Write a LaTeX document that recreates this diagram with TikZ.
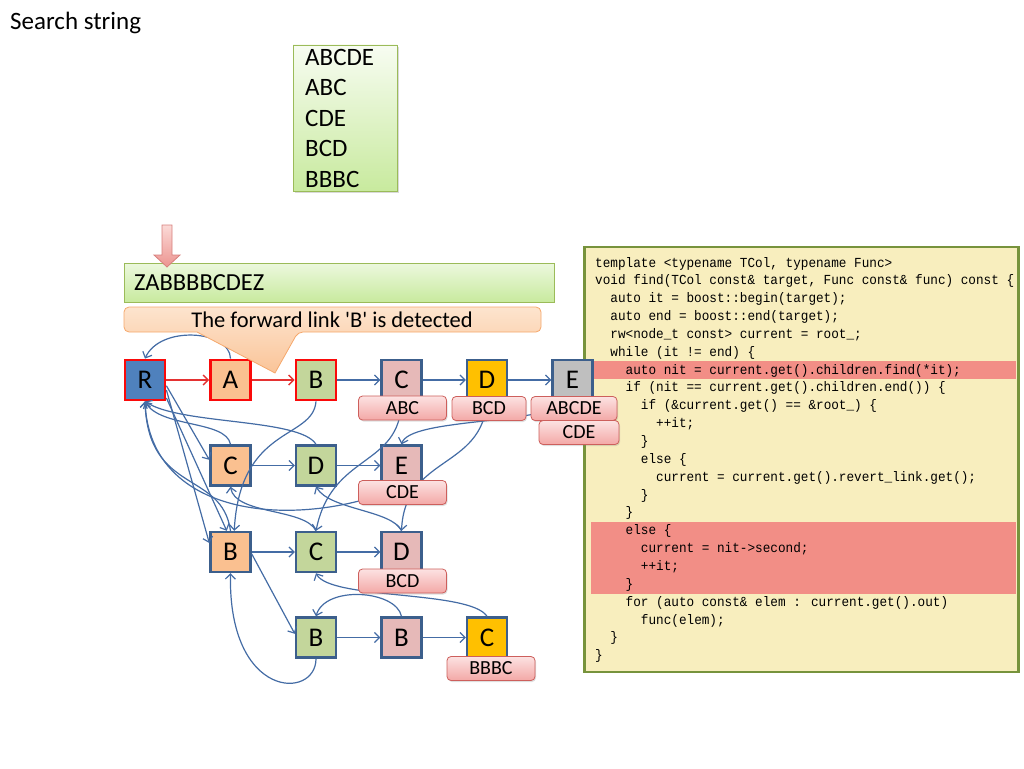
\documentclass[tikz,border=0pt]{standalone}
\usepackage{fontspec}
\setmainfont{Carlito}
\newfontfamily\codefont[FakeStretch=0.92]{Liberation Mono}
\usetikzlibrary{arrows.meta,shadows,calc}
\definecolor{edgeblue}{RGB}{68,108,165}
\definecolor{nodeborder}{RGB}{60,95,140}
\definecolor{hotred}{RGB}{250,10,10}
\definecolor{redarrow}{RGB}{228,50,50}
\definecolor{rblue}{RGB}{79,129,189}
\definecolor{orfill}{RGB}{250,192,144}
\definecolor{grfill}{RGB}{195,214,155}
\definecolor{pkfill}{RGB}{230,185,184}
\definecolor{goldfill}{RGB}{255,192,0}
\definecolor{grayfill}{RGB}{191,191,191}
\definecolor{labborder}{RGB}{205,95,92}
\definecolor{labtop}{RGB}{252,226,226}
\definecolor{labbot}{RGB}{243,168,166}
\definecolor{codebg}{RGB}{248,238,190}
\definecolor{olive}{RGB}{119,147,60}
\definecolor{hlred}{RGB}{242,142,134}
\definecolor{gtop}{RGB}{236,248,222}
\definecolor{gbot}{RGB}{200,234,158}
\definecolor{gborder}{RGB}{155,187,89}
\definecolor{ptop}{RGB}{253,228,206}
\definecolor{pbot}{RGB}{250,196,152}
\definecolor{pborder}{RGB}{245,168,108}
\definecolor{atop}{RGB}{251,218,215}
\definecolor{abot}{RGB}{236,148,144}
\definecolor{aborder}{RGB}{215,128,125}
\pgfdeclarelayer{back}
\pgfdeclarelayer{under}
\pgfdeclarelayer{edges}
\pgfdeclarelayer{over}
\pgfsetlayers{back,under,main,edges,over}
\newcommand\cdln[3]{\node[codeln] (code#1) at ({595+#2*7.62},{267+(#1-1)*17.85}) {#3};}
\tikzset{
  tn/.style={draw=nodeborder, line width=2.4pt, minimum width=40pt, minimum height=40pt, inner sep=0pt, font=\fontsize{27}{30}\selectfont},
  hot/.style={draw=hotred, line width=2.8pt},
  lab/.style={draw=labborder, line width=0.8pt, rounded corners=4pt, top color=labtop, bottom color=labbot, minimum height=24pt, inner sep=0pt, font=\fontsize{20}{22}\selectfont, drop shadow={shadow xshift=1pt, shadow yshift=-1.5pt, opacity=0.25}},
  fedge/.style={draw=edgeblue, line width=1.2pt, -{Straight Barb[length=5pt,width=10pt]}},
  redge/.style={draw=redarrow, line width=1.4pt, -{Straight Barb[length=5pt,width=10pt]}},
  codeln/.style={anchor=base west, inner sep=0pt, font=\codefont\fontsize{13.8}{15}\selectfont},
  listln/.style={anchor=base west, inner sep=0pt, font=\fontsize{25}{30}\selectfont},
}
\begin{document}
\begin{tikzpicture}[x=1pt,y=-1pt]
\useasboundingbox (0,0) rectangle (1024,768);

% title
\node[anchor=base west, inner sep=0pt, font=\fontsize{25}{30}\selectfont] (title) at (10,30) {Search string};

% list of search words
\node[draw=gborder, line width=0.8pt, top color=white!60!gtop, bottom color=gbot, minimum width=104pt, minimum height=146pt, inner sep=0pt, drop shadow={shadow xshift=1.5pt, shadow yshift=-2pt, opacity=0.3}] (list) at (345,118) {};
\node[listln] (w1) at (305,65) {ABCDE};
\node[listln] (w2) at (305,95.5) {ABC};
\node[listln] (w3) at (305,126) {CDE};
\node[listln] (w4) at (305,156.5) {BCD};
\node[listln] (w5) at (305,187) {BBBC};

% input string
\node[draw=gborder, line width=0.8pt, top color=gtop, bottom color=gbot, minimum width=430pt, minimum height=39pt, inner xsep=10pt, inner ysep=0pt, text width=410pt, align=left, font=\fontsize{24.5}{28}\selectfont] (zab) at (339,282.5) {ZABBBBCDEZ};
\draw[draw=aborder, line width=0.8pt, top color=atop, bottom color=abot] (162,225) -- (172,225) -- (172,255) -- (180,255) -- (167,267) -- (154,255) -- (162,255) -- cycle;

% code
\begin{pgfonlayer}{back}
\node[draw=olive, line width=2.5pt, fill=codebg, minimum width=434pt, minimum height=425pt, inner sep=0pt] (codebox) at (801.5,459.5) {};
\fill[hlred] (591,361) rectangle (1016,379);
\fill[hlred] (591,522) rectangle (1016,594);
\end{pgfonlayer}
\cdln{1}{0}{template <typename TCol, typename Func>}
\cdln{2}{0}{void find(TCol const\& target, Func const\& func) const \{}
\cdln{3}{2}{auto it = boost::begin(target);}
\cdln{4}{2}{auto end = boost::end(target);}
\cdln{5}{2}{rw<node\_t const> current = root\_;}
\cdln{6}{2}{while (it != end) \{}
\cdln{7}{4}{auto nit = current.get().children.find(*it);}
\cdln{8}{4}{if (nit == current.get().children.end()) \{}
\cdln{9}{6}{if (\&current.get() == \&root\_) \{}
\cdln{10}{8}{++it;}
\cdln{11}{6}{\}}
\cdln{12}{6}{else \{}
\cdln{13}{8}{current = current.get().revert\_link.get();}
\cdln{14}{6}{\}}
\cdln{15}{4}{\}}
\cdln{16}{4}{else \{}
\cdln{17}{6}{current = nit->second;}
\cdln{18}{6}{++it;}
\cdln{19}{4}{\}}
\cdln{20}{4}{for (auto const\& elem : current.get().out)}
\cdln{21}{6}{func(elem);}
\cdln{22}{2}{\}}
\cdln{23}{0}{\}}

% trie nodes
\node[tn, hot, fill=rblue] (R) at (145,380) {R};
\node[tn, hot, fill=orfill] (A) at (230.5,380) {A};
\node[tn, hot, fill=grfill] (B1) at (316,380) {B};
\node[tn, fill=pkfill] (C1) at (401.5,380) {C};
\node[tn, fill=goldfill] (D1) at (487,380) {D};
\node[tn, fill=grayfill] (E1) at (572.5,380) {E};
\node[tn, fill=orfill] (C2) at (230.5,465.5) {C};
\node[tn, fill=grfill] (D2) at (316,465.5) {D};
\node[tn, fill=pkfill] (E2) at (401.5,465.5) {E};
\node[tn, fill=orfill] (B3) at (230.5,552) {B};
\node[tn, fill=grfill] (C3) at (316,552) {C};
\node[tn, fill=pkfill] (D3) at (401.5,552) {D};
\node[tn, fill=grfill] (B4) at (316,637.5) {B};
\node[tn, fill=pkfill] (B5) at (401.5,637.5) {B};
\node[tn, fill=goldfill] (C4) at (487,637.5) {C};

% edge hidden behind E node
\begin{pgfonlayer}{under}
\draw[fedge] (D1.south) .. controls (482,470) and (405,455) .. (D3.north);
\end{pgfonlayer}

\begin{pgfonlayer}{edges}
\draw[redge] (R) -- (A);
\draw[redge] (A) -- (B1);
\draw[fedge] (B1) -- (C1);
\draw[fedge] (C1) -- (D1);
\draw[fedge] (D1) -- (E1);
\draw[fedge] (C2) -- (D2);
\draw[fedge] (D2) -- (E2);
\draw[fedge] (B3) -- (C3);
\draw[fedge] (C3) -- (D3);
\draw[fedge] (B4) -- (B5);
\draw[fedge] (B5) -- (C4);
\draw[fedge] (R.-15) -- (C2.165);
\draw[fedge] (R.-25) -- (B3.157);
\draw[fedge] (R.-40) -- (B3.100);
\draw[fedge] (B3.-5) -- (B4.170);
% failure links
\draw[fedge] (A.north) .. controls (230,330) and (160,325) .. (R.north);
\draw[fedge] (B1.south) .. controls (313,440) and (240,425) .. (B3.80);
\draw[fedge] (C1.south) .. controls (400,468) and (332,452) .. (C3.north);
\draw[fedge] (E1.south) .. controls (540,425) and (410,418) .. (E2.north);
\draw[fedge] (E2.south) .. controls (300,530) and (150,520) .. (R.south);
\draw[fedge] (C2.north) .. controls (226,420) and (160,428) .. (R.south);
\draw[fedge] (D2.north) .. controls (300,418) and (180,425) .. (R.south);
\draw[fedge] (B3.north) .. controls (222,470) and (148,495) .. (R.south);
\draw[fedge] (C3.north) .. controls (305,508) and (235,515) .. (C2.south);
\draw[fedge] (D3.north) .. controls (392,510) and (330,510) .. (D2.south);
\draw[fedge] (B4.south) .. controls (316,700) and (228,700) .. (B3.south);
\draw[fedge] (B5.north) .. controls (396,590) and (325,585) .. (B4.north);
\draw[fedge] (C4.north) .. controls (470,590) and (330,600) .. (C3.south);
\end{pgfonlayer}

\begin{pgfonlayer}{over}
\node[lab, minimum width=88pt] (labC1) at (402.5,408) {ABC};
\node[lab, minimum width=74pt] (labD1) at (489,408.5) {BCD};
\node[lab, minimum width=86pt] (labE1) at (574,408.5) {ABCDE};
\node[lab, minimum width=80pt] (labE1b) at (579,432.5) {CDE};
\node[lab, minimum width=88pt] (labE2) at (402.5,492.5) {CDE};
\node[lab, minimum width=88pt] (labD3) at (402.5,581) {BCD};
\node[lab, minimum width=88pt] (labC4) at (491,668.5) {BBBC};
% callout
\draw[draw=pborder, line width=0.8pt, top color=ptop, bottom color=pbot, rounded corners=5pt]
  (124,307) -- (541,307) -- (541,332) -- (298,332) [sharp corners] -- (275,373) -- (197,332) [rounded corners=5pt] -- (124,332) -- cycle;
\node[inner sep=0pt, font=\fontsize{22.5}{26}\selectfont] (calltext) at (332,319.5) {The forward link \textquotesingle B\textquotesingle\ is detected};
\end{pgfonlayer}
\end{tikzpicture}
\end{document}
